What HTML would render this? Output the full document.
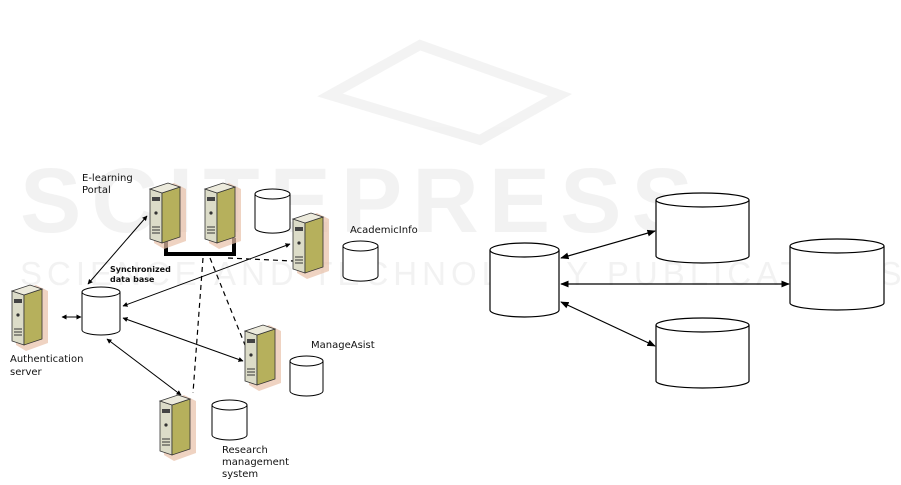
<!DOCTYPE html>
<html><head><meta charset="utf-8"><style>
body{margin:0;background:#fff;width:901px;height:485px;overflow:hidden}
svg{display:block}
text{font-family:"DejaVu Sans","Liberation Sans",sans-serif;font-size:10px;fill:#111}
</style></head><body>
<svg width="901" height="485" viewBox="0 0 901 485" xmlns="http://www.w3.org/2000/svg">
<defs>
<marker id="a" viewBox="0 0 10 10" refX="9" refY="5" markerWidth="5" markerHeight="5" orient="auto-start-reverse"><path d="M0,0L10,5L0,10z" fill="#000"/></marker>
<marker id="b" viewBox="0 0 10 10" refX="9" refY="5" markerWidth="7" markerHeight="7" orient="auto-start-reverse"><path d="M0,1L10,5L0,9z" fill="#000"/></marker>
<g id="srv">
<path d="M4,8 L24,0 L36,6 L36,58 L14,66 L4,60z" fill="#e8c0a8" opacity="0.7"/>
<path d="M0,6 L12,10 L12,60 L0,56z" fill="#dcdcc8" stroke="#333" stroke-width="0.8"/>
<path d="M12,10 L30,4 L30,54 L12,60z" fill="#b6b05c" stroke="#333" stroke-width="0.8"/>
<path d="M0,6 L18,0 L30,4 L12,10z" fill="#eceadc" stroke="#333" stroke-width="0.8"/>
<rect x="2" y="14" width="8" height="4" fill="#444"/>
<circle cx="6" cy="30" r="1.6" fill="#333"/>
<path d="M2,44h8M2,47h8M2,50h8" stroke="#333"/>
</g>
</defs>
<g opacity="0.45">
<text x="20" y="232" style="font-family:'Liberation Sans',sans-serif;font-size:92px;fill:#e4e4e4;font-weight:bold;letter-spacing:10px">SCITEPRESS</text>
<text x="20" y="285" style="font-family:'Liberation Sans',sans-serif;font-size:33px;fill:#e4e4e4;letter-spacing:5px">SCIENCE AND TECHNOLOGY PUBLICATIONS</text>
<path d="M330,95 L420,45 L560,95 L480,140 Z" fill="none" stroke="#e4e4e4" stroke-width="10"/>
</g>
<g fill="#fff" stroke="#000" stroke-width="1">
<path d="M255,194 v34 a17,5 0 0 0 35,0 v-34"/><ellipse cx="272.5" cy="194" rx="17.5" ry="5"/>
<path d="M343,246 v30 a17,5 0 0 0 35,0 v-30"/><ellipse cx="360.5" cy="246" rx="17.5" ry="5"/>
<path d="M82,292 v38 a19,5 0 0 0 38,0 v-38"/><ellipse cx="101" cy="292" rx="19" ry="5"/>
<path d="M290,361 v30 a16.5,5 0 0 0 33,0 v-30"/><ellipse cx="306.5" cy="361" rx="16.5" ry="5"/>
<path d="M212,405 v30 a17.5,5 0 0 0 35,0 v-30"/><ellipse cx="229.5" cy="405" rx="17.5" ry="5"/>
</g>
<path d="M166,238 V254 H234 V238" fill="none" stroke="#000" stroke-width="4"/>
<g stroke="#000" stroke-dasharray="5,4" fill="none" stroke-width="1.2">
<path d="M228,258 L293,261"/><path d="M203,258 L193,393"/><path d="M210,258 L245,345"/>
</g>
<use href="#srv" x="150" y="183"/>
<use href="#srv" x="205" y="183"/>
<use href="#srv" x="293" y="213"/>
<use href="#srv" x="12" y="285"/>
<use href="#srv" x="245" y="325"/>
<use href="#srv" x="160" y="395"/>
<g stroke="#000" stroke-width="1" marker-start="url(#a)" marker-end="url(#a)">
<line x1="88" y1="284" x2="147" y2="216"/>
<line x1="123" y1="306" x2="290" y2="244"/>
<line x1="123" y1="318" x2="243" y2="361"/>
<line x1="107" y1="339" x2="181" y2="395"/>
<line x1="62" y1="317" x2="81" y2="317"/>
</g>
<text x="82" y="181">E-learning</text><text x="82" y="193">Portal</text>
<text x="110" y="272" style="font-size:8px;font-weight:bold">Synchronized</text>
<text x="110" y="282" style="font-size:8px;font-weight:bold">data base</text>
<text x="350" y="233">AcademicInfo</text>
<text x="311" y="348">ManageAsist</text>
<text x="10" y="362">Authentication</text><text x="10" y="375">server</text>
<text x="222" y="453">Research</text><text x="222" y="465">management</text><text x="222" y="477">system</text>
<g fill="#fff" stroke="#000" stroke-width="1.2">
<path d="M490,250 v60 a34.5,7 0 0 0 69,0 v-60"/><ellipse cx="524.5" cy="250" rx="34.5" ry="7"/>
<path d="M656,200 v56 a46.5,7 0 0 0 93,0 v-56"/><ellipse cx="702.5" cy="200" rx="46.5" ry="7"/>
<path d="M790,246 v57 a47,7 0 0 0 94,0 v-57"/><ellipse cx="837" cy="246" rx="47" ry="7"/>
<path d="M656,325 v56 a46.5,7 0 0 0 93,0 v-56"/><ellipse cx="702.5" cy="325" rx="46.5" ry="7"/>
</g>
<g stroke="#000" stroke-width="1.2" marker-start="url(#b)" marker-end="url(#b)">
<line x1="561" y1="258" x2="655" y2="231"/>
<line x1="561" y1="284" x2="789" y2="284"/>
<line x1="561" y1="302" x2="655" y2="346"/>
</g>
</svg>
</body></html>
